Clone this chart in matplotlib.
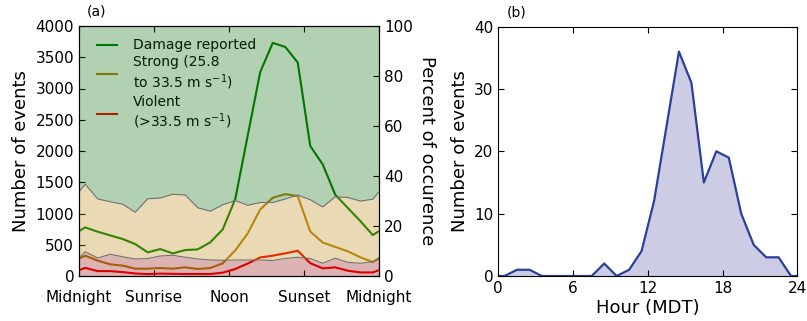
import numpy as np
import matplotlib
matplotlib.use('Agg')
import matplotlib.pyplot as plt


# hour positions: wrap-around endpoints plus hourly bin centres
hours = [0] + [h + 0.5 for h in range(24)] + [24]

damage = [718, 778, 708, 650, 591, 511, 378, 431, 362, 415, 426, 538, 746,
          1230, 2250, 3265, 3730, 3665, 3415, 2080, 1785, 1300, 1090, 880, 655, 718]
strong = [280, 325, 245, 187, 165, 117, 117, 128, 117, 139, 112, 128, 203,
          410, 682, 1066, 1252, 1310, 1278, 712, 535, 466, 395, 300, 224, 280]
violent = [94, 130, 78, 78, 62, 40, 30, 38, 35, 32, 32, 32, 53,
           112, 200, 298, 325, 362, 404, 205, 122, 138, 85, 57, 57, 94]

# percent of occurrence: violent, and violent + strong
violent_pct = [7.3, 9.7, 7.2, 8.7, 7.7, 6.8, 7.0, 8.0, 8.3, 7.5, 6.8, 6.4, 6.3,
               6.4, 6.4, 6.4, 6.2, 7.0, 7.5, 7.0, 5.1, 7.1, 5.5, 5.1, 5.7, 7.3]
upper_pct = [33.7, 36.7, 30.8, 29.7, 28.7, 25.5, 30.9, 31.2, 32.7, 32.4, 27.3, 25.9, 28.5,
             30.2, 28.3, 29.4, 29.4, 30.8, 32.4, 30.5, 27.6, 31.7, 31.4, 30.0, 30.7, 33.7]

tick_hours = [0, 6, 12, 18, 24]
tick_names = ['Midnight', 'Sunrise', 'Noon', 'Sunset', 'Midnight']

# hourly counts for panel (b)
counts = [0, 0, 1, 1, 0, 0, 0, 0, 0, 2, 0, 1, 4,
          12, 24, 36, 31, 15, 20, 19, 10, 5, 3, 3, 0, 0]

W, H = 807, 321
fig = plt.figure(figsize=(W / 100, H / 100), dpi=100)

# ---- (a) ----
ax = fig.add_axes([79 / W, 45 / H, 300 / W, 250 / H])
ax.plot(hours, damage, color='green', lw=1.5, label='Damage reported')
ax.plot(hours, strong, color='darkgoldenrod', lw=1.5,
        label='Strong (25.8\nto 33.5 m s$^{-1}$)')
ax.plot(hours, violent, color='red', lw=1.5,
        label='Violent\n(>33.5 m s$^{-1}$)')
ax.set_xlim(0, 24)
ax.set_ylim(0, 4000)
ax.set_xticks(tick_hours)
ax.set_xticklabels(tick_names)
ax.tick_params(direction='in', top=True, labelsize=11, length=4)
ax.tick_params(axis='x', pad=10)
ax.set_ylabel('Number of events', fontsize=13)
ax.legend(loc='upper left', bbox_to_anchor=(0.018, 1.0), frameon=False,
          fontsize=10, handlelength=1.45, handletextpad=1.15, labelspacing=0.2)
ax.text(0.06, 1.03, '(a)', transform=ax.transAxes, fontsize=10, ha='center', va='bottom')

ax2 = ax.twinx()
zero = np.zeros(len(hours))
ax2.fill_between(hours, zero, violent_pct, color='darkred', alpha=0.3, lw=0)
ax2.fill_between(hours, violent_pct, upper_pct, color='darkgoldenrod', alpha=0.3, lw=0)
ax2.fill_between(hours, upper_pct, 100, color='darkgreen', alpha=0.3, lw=0)
ax2.plot(hours, violent_pct, color='0.45', lw=0.8)
ax2.plot(hours, upper_pct, color='0.45', lw=0.8)
ax2.set_ylim(0, 100)
ax2.set_xlim(0, 24)
ax2.tick_params(direction='in', labelsize=11, length=4)
ax2.set_ylabel('Percent of occurence', fontsize=13, rotation=270, va='bottom', labelpad=4)

# ---- (b) ----
bx = fig.add_axes([498.3 / W, 45 / H, 299 / W, 249.3 / H])
bx.fill_between(hours, 0, counts, color='navy', alpha=0.2, lw=0)
bx.plot(hours, counts, color='#2b409a', lw=1.6)
bx.set_xlim(0, 24)
bx.set_ylim(0, 40)
bx.set_xticks(tick_hours)
bx.set_yticks([0, 10, 20, 30, 40])
bx.tick_params(direction='in', top=True, right=True, labelsize=11, length=4)
bx.set_xlabel('Hour (MDT)', fontsize=13, labelpad=2)
bx.set_ylabel('Number of events', fontsize=13)
bx.text(0.06, 1.03, '(b)', transform=bx.transAxes, fontsize=10, ha='center', va='bottom')

fig.savefig('out.png', dpi=100)
